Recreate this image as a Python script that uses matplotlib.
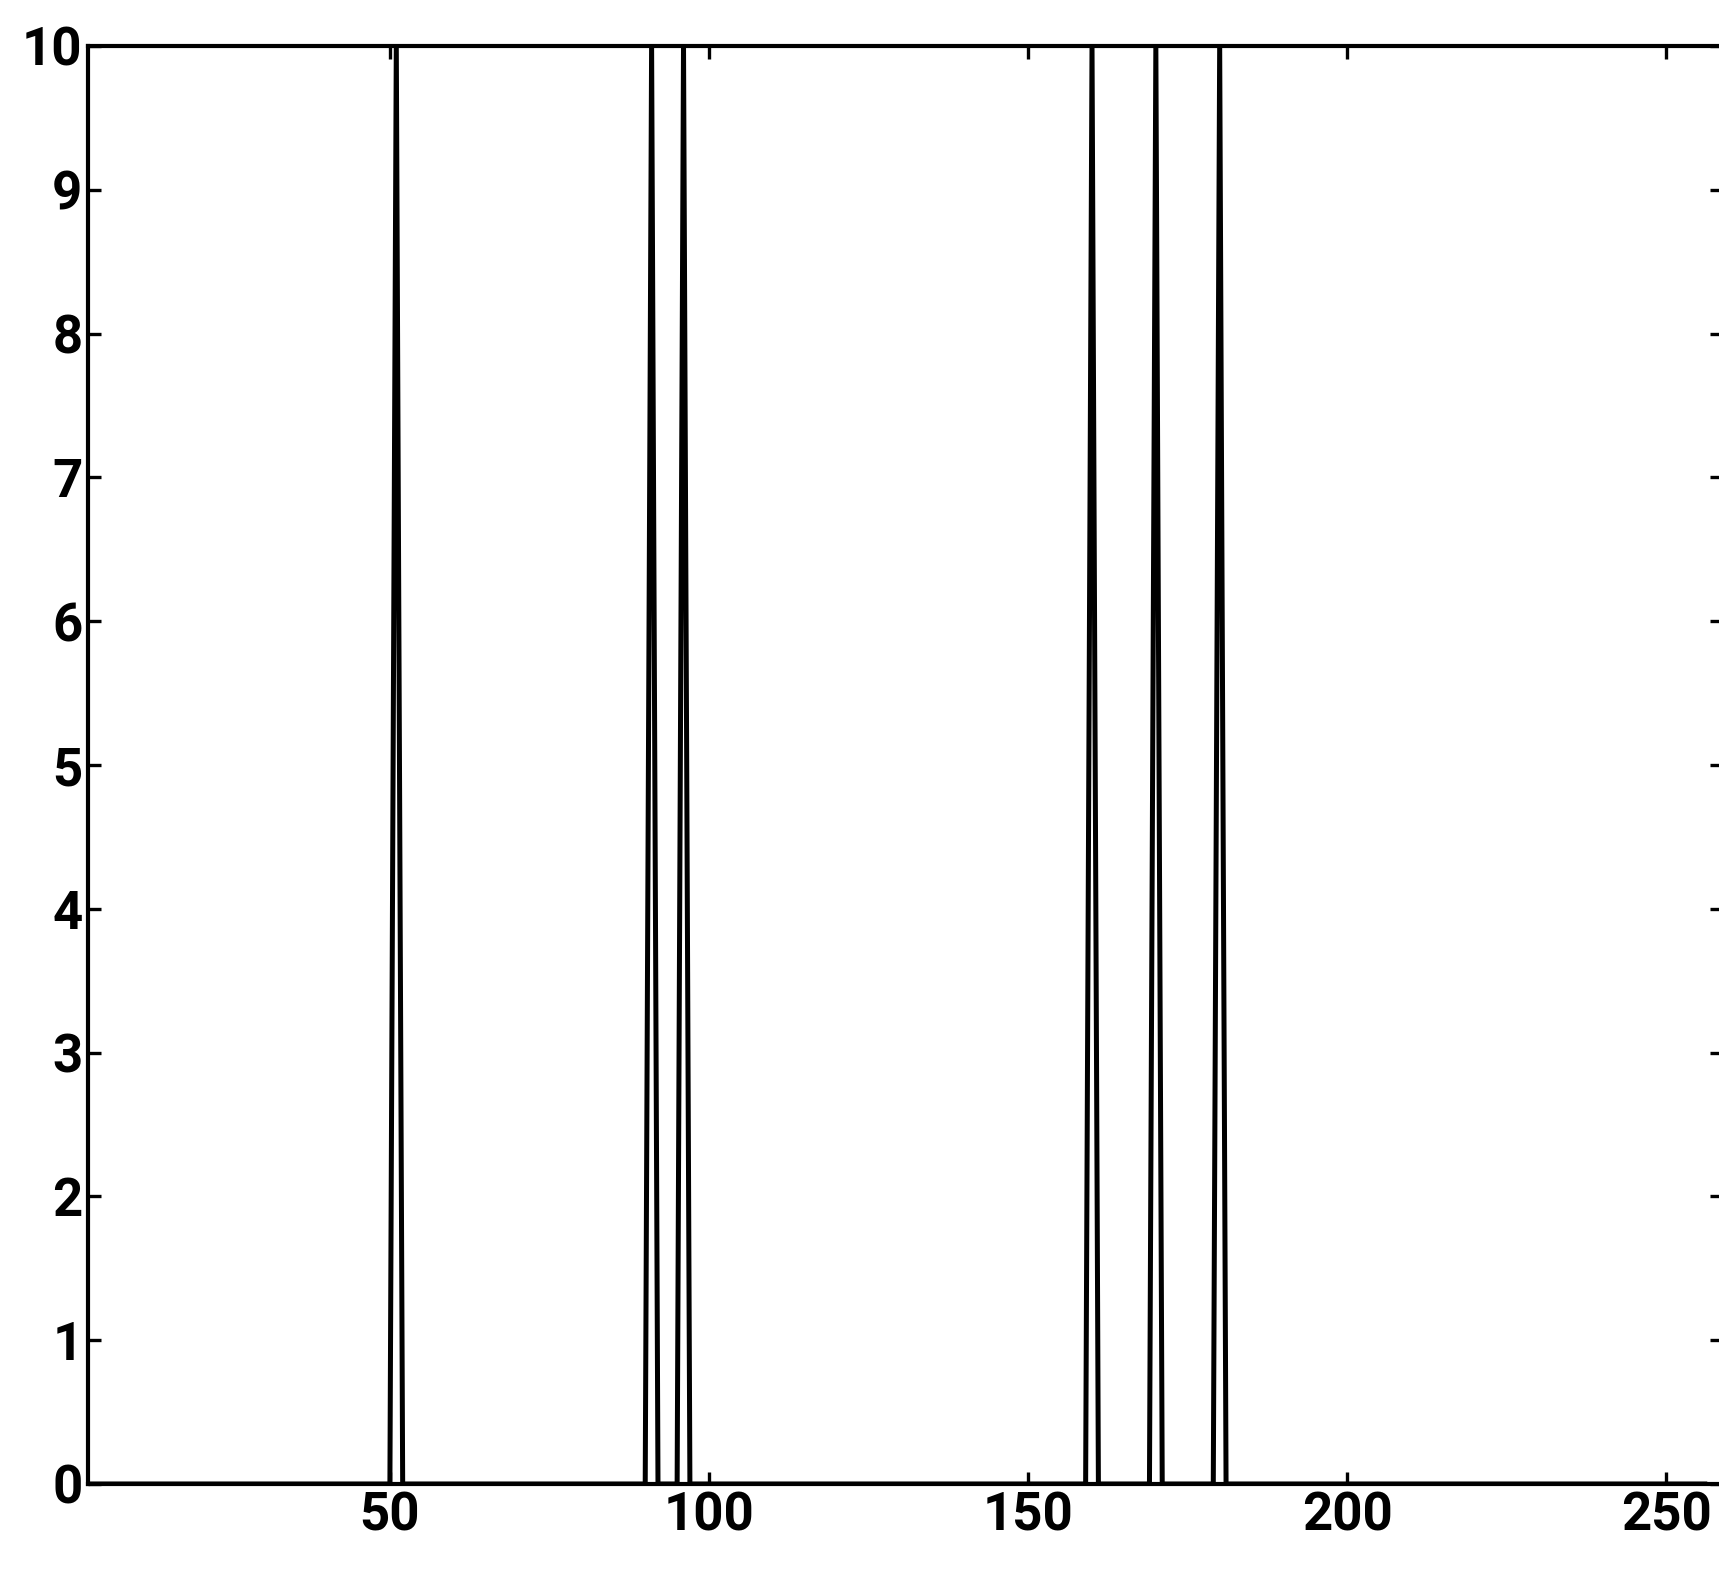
import numpy as np
import matplotlib
matplotlib.use("Agg")
import matplotlib.pyplot as plt

# ---- data ----
n_samples = 256
spike_positions = [51, 91, 96, 160, 170, 180]
spike_heights = [10, 10, 10, 10, 10, 10]
x_ticks = [50, 100, 150, 200, 250]
y_ticks = [0, 1, 2, 3, 4, 5, 6, 7, 8, 9, 10]

x = np.arange(1, n_samples + 1)
y = np.zeros(n_samples)
for p, h in zip(spike_positions, spike_heights):
    y[p - 1] = h

fam = ['Roboto', 'Liberation Sans', 'DejaVu Sans']

W, H = 1719, 1577
fig = plt.figure(figsize=(W / 100, H / 100), dpi=100)
left_px, right_px, top_px, bottom_px = 88, 1722, 46, 1484
ax = fig.add_axes([left_px / W, (H - bottom_px) / H, (right_px - left_px) / W, (bottom_px - top_px) / H])

ax.plot(x, y, color='black', linewidth=3.6, solid_joinstyle='miter')
ax.set_xlim(2.7, 258.7)
ax.set_ylim(0, 10)
ax.set_xticks(x_ticks)
ax.set_yticks(y_ticks)
ax.tick_params(direction='in', length=9, width=2.4, top=True, right=True,
               labelsize=38, pad=4)
ax.tick_params(axis='x', pad=5)
for lab in ax.get_xticklabels() + ax.get_yticklabels():
    lab.set_family(fam)
    lab.set_fontweight('bold')
for s in ax.spines.values():
    s.set_linewidth(3.0)

fig.savefig("out.png", dpi=100, facecolor='white')
